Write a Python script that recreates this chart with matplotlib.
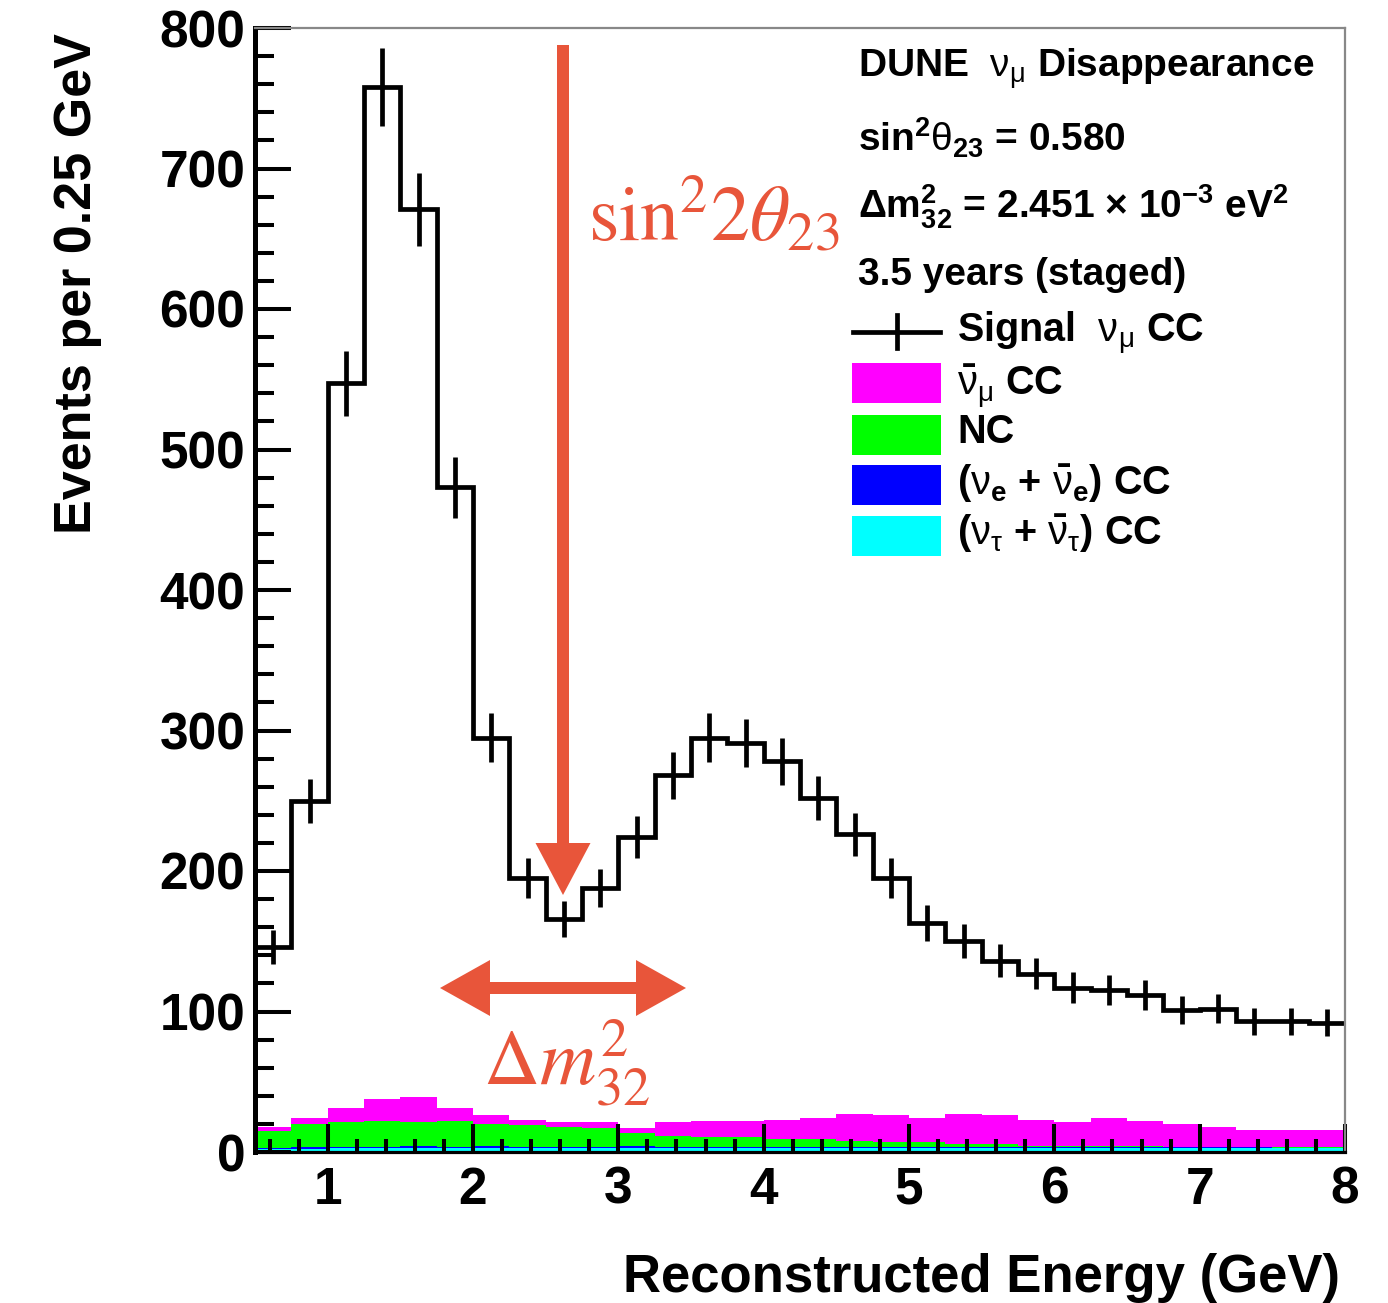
import numpy as np
import matplotlib
matplotlib.use("Agg")
import matplotlib.pyplot as plt
from matplotlib.ticker import MultipleLocator, FixedLocator
from matplotlib.patches import Rectangle
from matplotlib.lines import Line2D

plt.rcParams['font.family'] = ['Liberation Sans', 'DejaVu Sans']
plt.rcParams['font.weight'] = 'normal'
plt.rcParams['mathtext.fontset'] = 'custom'
plt.rcParams['mathtext.rm'] = 'Liberation Sans:bold'
plt.rcParams['mathtext.bf'] = 'Liberation Sans:bold'
plt.rcParams['mathtext.it'] = 'Liberation Sans:italic'
plt.rcParams['mathtext.sf'] = 'Liberation Sans'

# ---------------- data ----------------
bin_edges = np.arange(0.5, 8.0001, 0.25)
signal = [146, 250, 547, 758, 671, 473, 295, 195, 166, 188, 224, 268, 295, 291, 278,
          252, 226, 195, 163, 150, 136, 127, 117, 115, 112, 101, 102, 93, 93, 92]
signal_err = [12.1, 15.8, 23.4, 27.5, 25.9, 21.7, 17.2, 14.0, 12.9, 13.7, 15.0, 16.4, 17.2, 17.1, 16.7,
              15.9, 15.0, 14.0, 12.8, 12.2, 11.7, 11.3, 10.8, 10.7, 10.6, 10.0, 10.1, 9.6, 9.6, 9.6]
nutau_cc = [2.2, 2.4, 2.6, 2.7, 2.8, 2.8, 2.9, 2.9, 2.9, 2.9, 3.0, 3.0, 3.0, 3.0, 3.0,
            3.0, 3.0, 3.0, 2.9, 2.9, 2.9, 2.9, 2.8, 2.8, 2.8, 2.7, 2.7, 2.7, 2.6, 2.6]
nue_cc = [1.0, 1.1, 1.2, 1.2, 1.2, 1.1, 1.1, 1.0, 1.0, 1.0, 1.0, 0.9, 0.9, 0.9, 0.9,
          0.8, 0.8, 0.8, 0.8, 0.7, 0.7, 0.7, 0.7, 0.6, 0.6, 0.6, 0.6, 0.6, 0.5, 0.5]
nc = [11.8, 16.5, 17.2, 18.1, 17.0, 18.1, 16.0, 15.1, 14.1, 13.1, 9.5, 7.6, 6.6, 6.6, 5.1,
      5.2, 3.7, 3.2, 3.3, 2.4, 1.9, 0.9, 0.5, 0.6, 0.6, 0.5, 0.4, 0.5, 0.8, 0.4]
numubar_cc = [3.0, 4.0, 10.0, 16.0, 18.0, 9.0, 6.0, 4.0, 3.0, 4.0, 3.5, 9.5, 11.5, 11.5, 14.0,
              15.0, 19.5, 19.0, 17.0, 21.0, 20.5, 18.5, 17.0, 20.0, 18.0, 16.2, 14.3, 12.2, 12.1, 12.5]

y_ticks = [0, 100, 200, 300, 400, 500, 600, 700, 800]
x_ticks = [1, 2, 3, 4, 5, 6, 7, 8]

RED = '#e8553a'

# ---------------- figure ----------------
W, H = 1388, 1303
fig = plt.figure(figsize=(W / 100, H / 100), dpi=100)
L, R, T, B = 255, 1345, 28, 1152
ax = fig.add_axes([L / W, 1 - B / H, (R - L) / W, (B - T) / H])

# stacked backgrounds (bottom to top)
stack = [(nutau_cc, '#00ffff'), (nue_cc, '#0000ff'), (nc, '#00ff00'), (numubar_cc, '#ff00ff')]
lower = np.zeros(len(signal))
for vals, col in stack:
    upper = lower + np.asarray(vals)
    ax.stairs(upper, bin_edges, baseline=lower, fill=True, color=col, lw=0)
    lower = upper

# signal histogram with error bars
centers = 0.5 * (bin_edges[:-1] + bin_edges[1:])
ax.stairs(signal, bin_edges, baseline=None, color='black', lw=3.4)
ax.errorbar(centers, signal, yerr=signal_err, fmt='none', ecolor='black', elinewidth=3.4, capsize=0)

ax.set_xlim(0.5, 8)
ax.set_ylim(0, 800)
ax.yaxis.set_major_locator(FixedLocator(y_ticks))
ax.xaxis.set_major_locator(FixedLocator(x_ticks))
ax.yaxis.set_minor_locator(MultipleLocator(20))
ax.xaxis.set_minor_locator(MultipleLocator(0.2))
ax.set_yticklabels([str(v) for v in y_ticks], fontweight='bold')
ax.set_xticklabels([str(v) for v in x_ticks], fontweight='bold')

ax.tick_params(axis='y', which='major', direction='in', length=26, width=2.9, labelsize=37, pad=7, right=False)
ax.tick_params(axis='y', which='minor', direction='in', length=13.5, width=2.9, right=False)
ax.tick_params(axis='x', which='major', direction='in', length=20, width=2.9, labelsize=37, pad=10, top=False)
ax.tick_params(axis='x', which='minor', direction='in', length=9.5, width=2.9, top=False)

ax.spines['left'].set_linewidth(3.6)
ax.spines['left'].set_color('black')
ax.spines['bottom'].set_linewidth(2.3)
ax.spines['bottom'].set_color('black')
for s in ('top', 'right'):
    ax.spines[s].set_linewidth(1.6)
    ax.spines[s].set_color('#888888')

# axis labels
fig.text(78 / W, 1 - 33 / H, 'Events per 0.25 GeV', rotation=90, ha='center', va='top',
         fontsize=37.5, fontweight='bold')
fig.text(1340 / W, 1 - 1278 / H, 'Reconstructed Energy (GeV)', ha='right', va='center',
         fontsize=38, fontweight='bold')

# ---------------- legend / info block ----------------
def axp(px, py):
    return ((px - L) / (R - L), (B - py) / (B - T))

NU = r'\mathsf{\nu}'
hdr_fs = 28
for py, s in [(78, r'DUNE  $' + NU + r'_{\mathsf{\mu}}$ Disappearance'),
              (152, r'sin$^{2}\mathsf{\theta}_{23}$ = 0.580'),
              (218, r'$\Delta$m$^{2}_{32}$ = 2.451 $\times$ 10$^{-3}$ eV$^{2}$'),
              (285, '3.5 years (staged)')]:
    x, y = axp(858, py)
    ax.text(x, y, s, transform=ax.transAxes, ha='left', va='baseline', fontsize=hdr_fs, fontweight='bold')

ent_fs = 28.5
x0, y0 = axp(853, 332)
x1, _ = axp(940, 332)
ax.add_line(Line2D([x0, x1], [y0, y0], transform=ax.transAxes, color='black', lw=3.4))
xc, ya = axp(897, 315)
_, yb = axp(897, 348)
ax.add_line(Line2D([xc, xc], [ya, yb], transform=ax.transAxes, color='black', lw=3.4))
x, y = axp(957, 342)
ax.text(x, y, r'Signal  $' + NU + r'_{\mathsf{\mu}}$ CC', transform=ax.transAxes, ha='left',
        va='baseline', fontsize=ent_fs, fontweight='bold')

entries = [(363, 403, 395, '#ff00ff', r'$\bar{' + NU + r'}_{\mathsf{\mu}}$ CC'),
           (415, 455, 443, '#00ff00', 'NC'),
           (465, 505, 495, '#0000ff', r'($' + NU + r'_{\mathrm{e}}$ + $\bar{' + NU + r'}_{\mathrm{e}}$) CC'),
           (516, 556, 545, '#00ffff', r'($' + NU + r'_{\mathsf{\tau}}$ + $\bar{' + NU + r'}_{\mathsf{\tau}}$) CC')]
for ytop, ybot, ybase, col, lab in entries:
    xa, yt = axp(852, ytop)
    xb, yb2 = axp(941, ybot)
    ax.add_patch(Rectangle((xa, yb2), xb - xa, yt - yb2, transform=ax.transAxes,
                           facecolor=col, edgecolor='none'))
    x, y = axp(957, ybase)
    ax.text(x, y, lab, transform=ax.transAxes, ha='left', va='baseline', fontsize=ent_fs, fontweight='bold')

# ---------------- red annotations ----------------
px2e = lambda px: 0.5 + (px - L) / (R - L) * 7.5
py2v = lambda py: (B - py) / (B - T) * 800
ex_per_px = 7.5 / (R - L)
ev_per_px = 800 / (B - T)

# vertical arrow
xa = px2e(563)
ytop, ytip = py2v(45), py2v(895)
ax.arrow(xa, ytop, 0, ytip - ytop, width=12 * ex_per_px, head_width=55 * ex_per_px,
         head_length=52 * ev_per_px, length_includes_head=True, color=RED, lw=0, zorder=5)

# horizontal double arrow
xm = px2e(563)
yh = py2v(988)
for xt in (px2e(440), px2e(686)):
    ax.arrow(xm, yh, xt - xm, 0, width=12 * ev_per_px, head_width=56 * ev_per_px,
             head_length=50 * ex_per_px, length_includes_head=True, color=RED, lw=0, zorder=5)

x, y = axp(588, 240)
ax.text(x, y, r'$\mathrm{sin}^{2}2\theta_{23}$', transform=ax.transAxes, ha='left', va='baseline',
        fontsize=56, color=RED, math_fontfamily='stix', fontweight='normal')
x, y = axp(483, 1085)
ax.text(x, y, r'$\Delta m^{2}_{32}$', transform=ax.transAxes, ha='left', va='baseline',
        fontsize=56, color=RED, math_fontfamily='stix', fontweight='normal')

fig.savefig('out.png', dpi=100)
